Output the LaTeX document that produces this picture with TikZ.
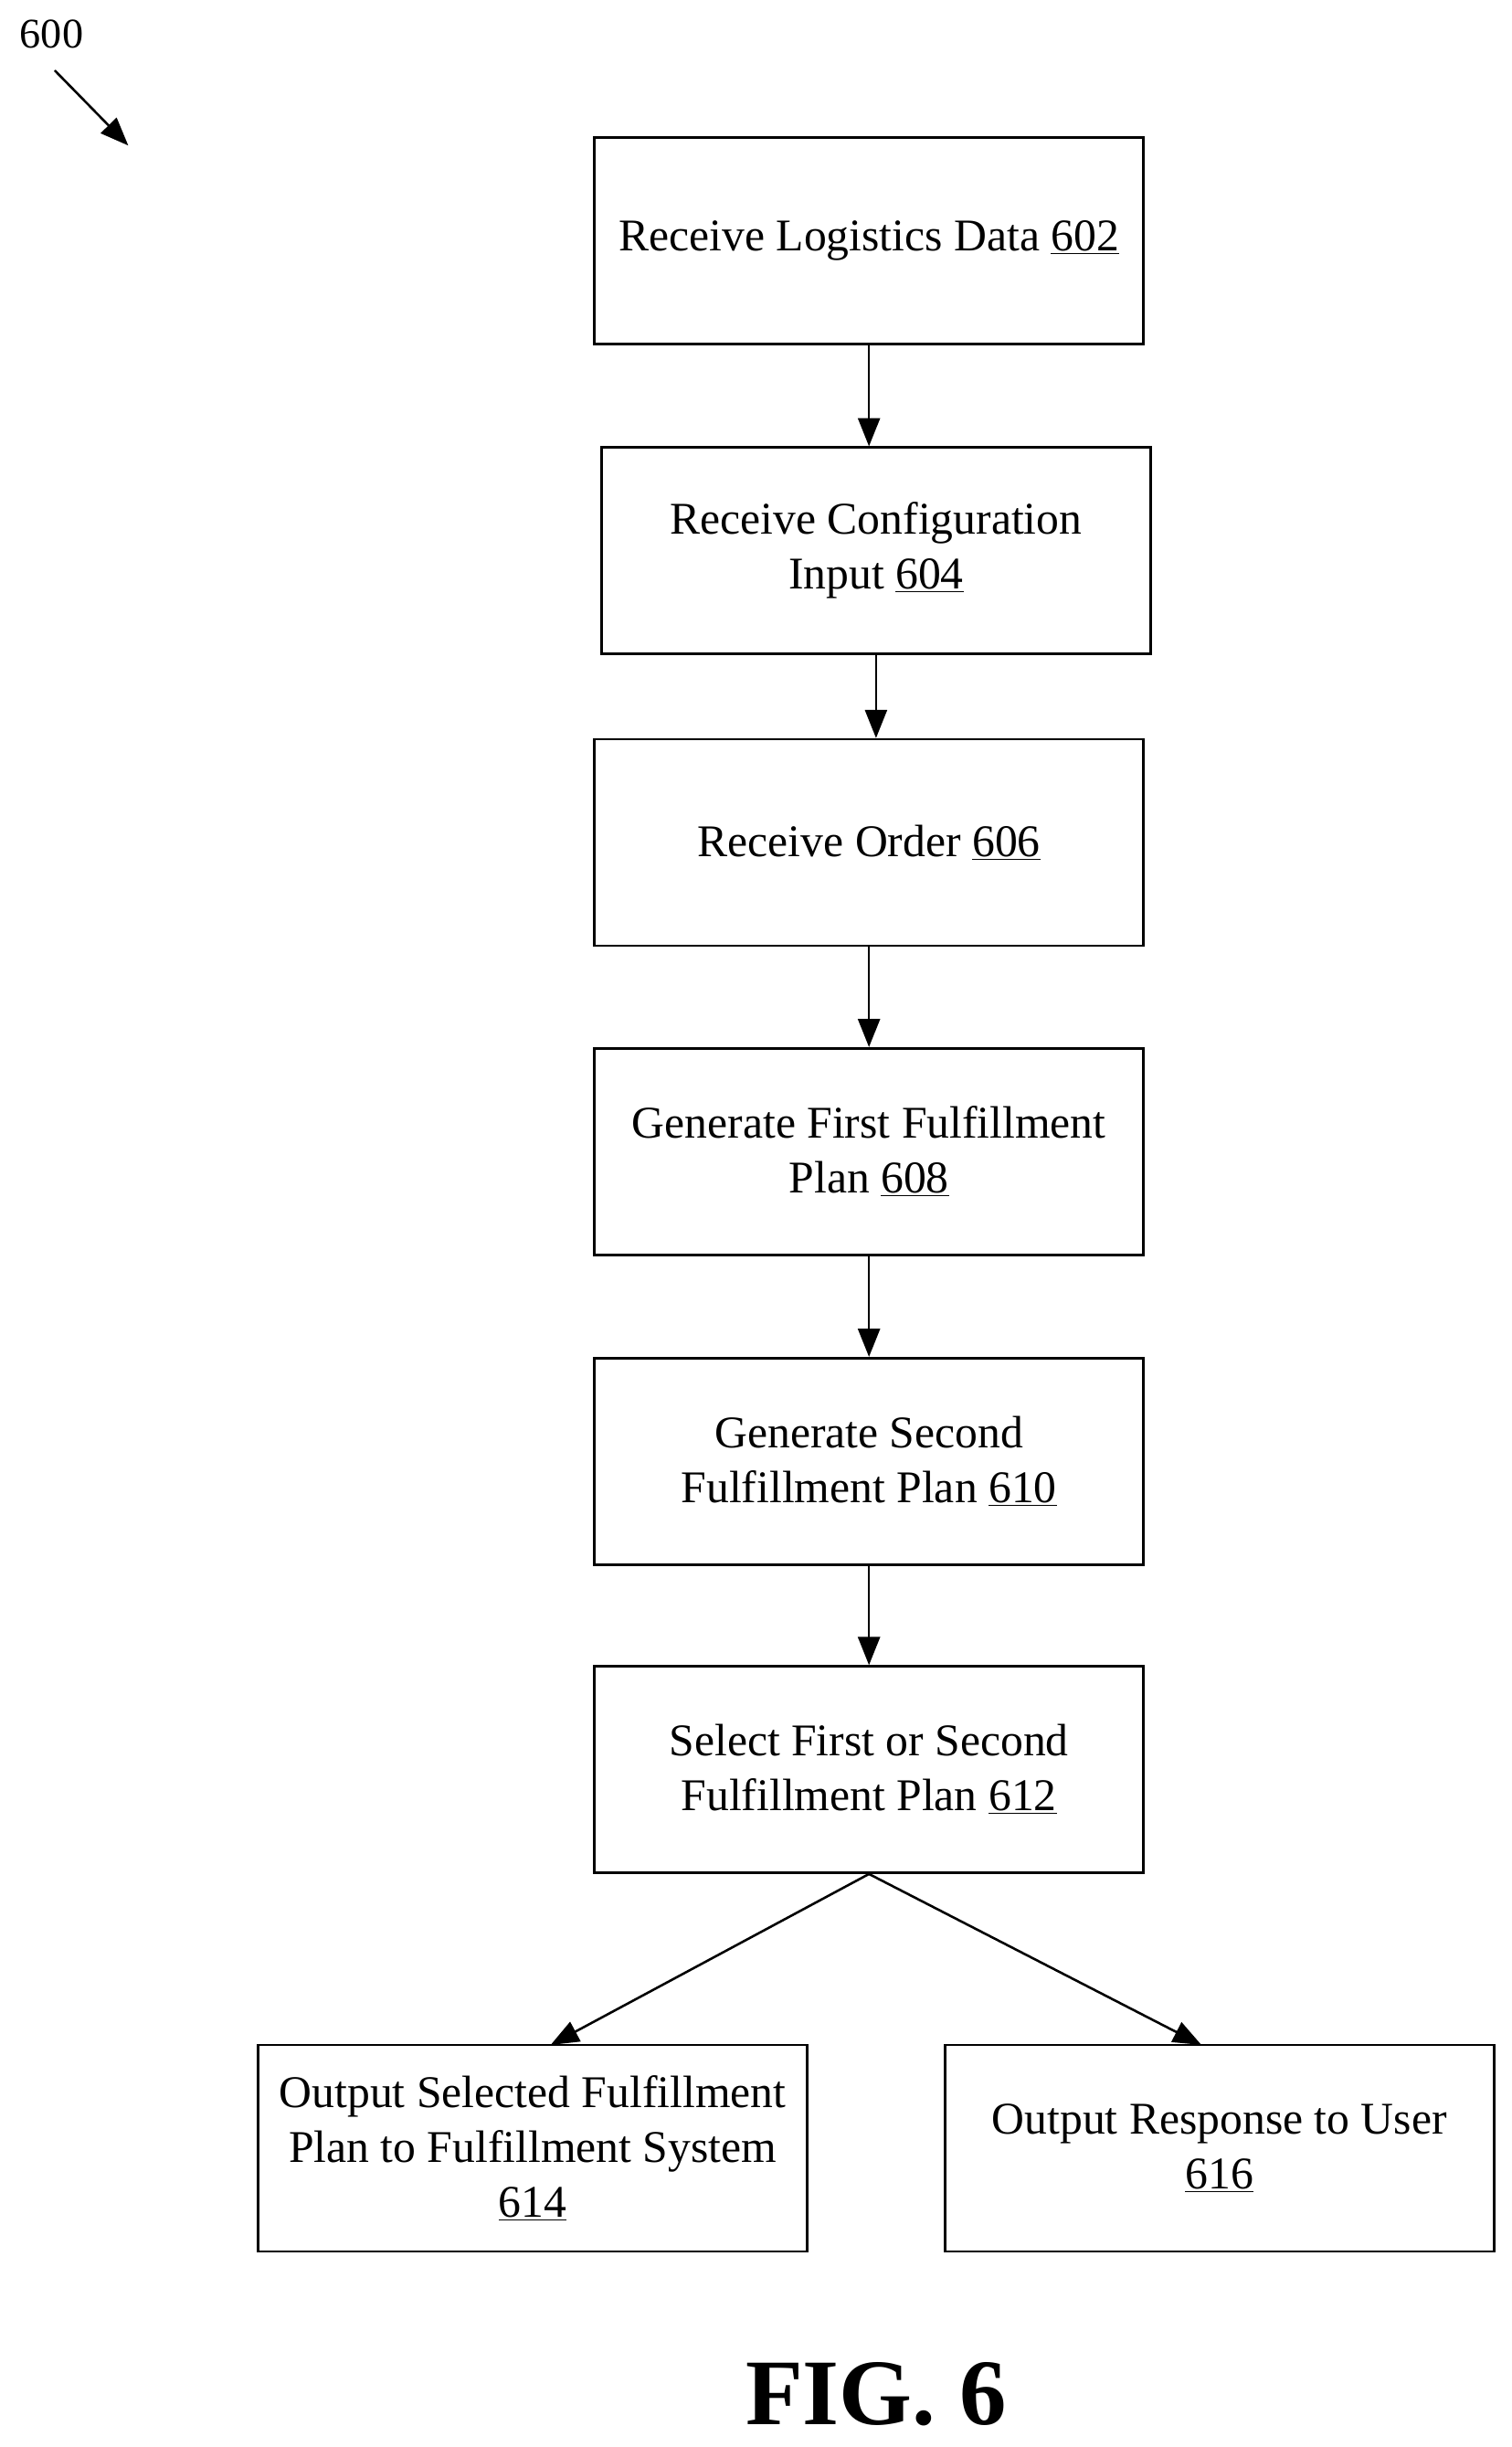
\documentclass[tikz,border=0pt]{standalone}
\usepackage{fontspec}
\setmainfont{Liberation Serif}
\usetikzlibrary{arrows.meta}
\begin{document}
\begin{tikzpicture}[x=1pt,y=-1pt,
 box/.style={draw,line width=1.5pt,minimum width=351pt,minimum height=132pt,align=center,font=\fontsize{29}{35}\selectfont,inner sep=0pt},
 arr/.style={line width=1.5pt,-{Triangle[length=18pt,width=14pt]}}]
\useasboundingbox (0,0) rectangle (966,1564);
\node[box] (a) at (555.5,154) {Receive Logistics Data \underline{602}};
\node[box] (b) at (560,352) {Receive Configuration\\Input \underline{604}};
\node[box] (c) at (555.5,538.5) {Receive Order \underline{606}};
\node[box] (d) at (555.5,736) {Generate First Fulfillment\\Plan \underline{608}};
\node[box] (e) at (555.5,934) {Generate Second\\Fulfillment Plan \underline{610}};
\node[box] (f) at (555.5,1131) {Select First or Second\\Fulfillment Plan \underline{612}};
\node[box] (g) at (340.5,1373) {Output Selected Fulfillment\\Plan to Fulfillment System\\\underline{614}};
\node[box] (h) at (779.5,1373) {Output Response to User\\\underline{616}};
\coordinate (gt) at (352,1307);
\coordinate (ht) at (768,1307);
\draw[arr] (a.south) -- (a.south |- b.north);
\draw[arr] (b.south) -- (b.south |- c.north);
\draw[arr] (c.south) -- (d.north);
\draw[arr] (d.south) -- (e.north);
\draw[arr] (e.south) -- (f.north);
\draw[arr] (f.south) -- (gt);
\draw[arr] (f.south) -- (ht);
\node[font=\fontsize{27}{30}\selectfont] (n) at (33,22) {600};
\coordinate (ne) at (82,93);
\draw[arr] (35,45) -- (ne);
\node[font=\bfseries\fontsize{60}{70}\selectfont] (fig) at (560,1530) {FIG. 6};
\end{tikzpicture}
\end{document}
